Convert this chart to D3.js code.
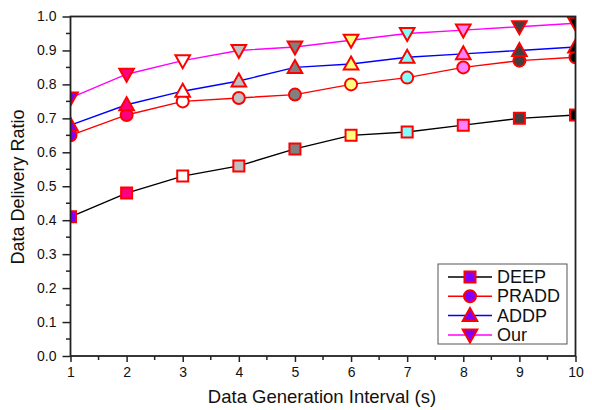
<!DOCTYPE html>
<html><head><meta charset="utf-8">
<script src="https://cdn.jsdelivr.net/npm/d3@7"></script>
<style>body{margin:0;background:#fff}svg{display:block}text{font-family:Arial,"Liberation Sans",sans-serif}</style>
</head><body><svg id="c" width="592" height="410"></svg>
<script>
const xValues = [1,2,3,4,5,6,7,8,9,10];
const seriesNames = ["DEEP","PRADD","ADDP","Our"];
const deep  = [0.41,0.48,0.53,0.56,0.61,0.65,0.66,0.68,0.70,0.71];
const pradd = [0.65,0.71,0.75,0.76,0.77,0.80,0.82,0.85,0.87,0.88];
const addp  = [0.68,0.74,0.78,0.81,0.85,0.86,0.88,0.89,0.90,0.91];
const our   = [0.76,0.83,0.87,0.90,0.91,0.93,0.95,0.96,0.97,0.98];
const yTicks = [0.0,0.1,0.2,0.3,0.4,0.5,0.6,0.7,0.8,0.9,1.0];
const xTicks = [1,2,3,4,5,6,7,8,9,10];
const pointFills = ["#8000FF","#FF0080","#FFFFFF","#C0C0C0","#808080","#FFFF80","#80FFFF","#FF80FF","#404040","#000000"];
const lineColors = ["#000000","#FF0000","#0000FF","#FF00FF"];
const symbols = ["square","circle","triangle","triangleDown"];

const data = [deep,pradd,addp,our];
const svg = d3.select("#c");
const L=70.5,R=575.5,T=16.5,B=356;
const x = d3.scaleLinear().domain([1,10]).range([L,R]);
const y = d3.scaleLinear().domain([0,1]).range([B,T]);

svg.append("defs").append("clipPath").attr("id","clip").append("rect")
  .attr("x",L).attr("y",T).attr("width",R-L).attr("height",B-T);

function markerPath(sym, cx, cy){
  if(sym==="square"){const s=5.5;return `M${cx-s},${cy-s}H${cx+s}V${cy+s}H${cx-s}Z`;}
  if(sym==="circle"){const r=6;return `M${cx+r},${cy}A${r},${r} 0 1 1 ${cx-r},${cy}A${r},${r} 0 1 1 ${cx+r},${cy}Z`;}
  if(sym==="triangle"){const h=6.5;return `M${cx},${cy-h-1}L${cx+h+0.8},${cy+h-1}L${cx-h-0.8},${cy+h-1}Z`;}
  const h=6.5;return `M${cx},${cy+h+1}L${cx+h+0.8},${cy-h+1}L${cx-h-0.8},${cy-h+1}Z`;
}

const plot = svg.append("g").attr("clip-path","url(#clip)");
const line = d3.line().x((d,i)=>x(xValues[i])).y(d=>y(d));
data.forEach((vals,si)=>{
  plot.append("path").attr("d",line(vals)).attr("fill","none")
    .attr("stroke",lineColors[si]).attr("stroke-width",1.4);
});
data.forEach((vals,si)=>{
  vals.forEach((v,i)=>{
    plot.append("path").attr("d",markerPath(symbols[si],x(xValues[i]),y(v)))
      .attr("fill",pointFills[i]).attr("stroke","#FF0000").attr("stroke-width",2);
  });
});

// frame
svg.append("rect").attr("x",L).attr("y",T).attr("width",R-L).attr("height",B-T)
  .attr("fill","none").attr("stroke","#222").attr("stroke-width",1.8);

// y axis
const yAxis = svg.append("g").attr("transform",`translate(${L},0)`)
  .call(d3.axisLeft(y).tickValues(yTicks).tickFormat(d3.format(".1f")).tickSize(8).tickPadding(6));
yAxis.select(".domain").remove();
yAxis.selectAll("line").attr("stroke","#222").attr("stroke-width",1.5);
yAxis.selectAll("text").attr("font-size",14).attr("fill","#111");
const yMinor = d3.range(0.05,1,0.1);
svg.append("g").selectAll("line").data(yMinor).join("line")
  .attr("x1",L-4.5).attr("x2",L).attr("y1",d=>y(d)).attr("y2",d=>y(d))
  .attr("stroke","#222").attr("stroke-width",1.5);

// x axis
const xAxis = svg.append("g").attr("transform",`translate(0,${B})`)
  .call(d3.axisBottom(x).tickValues(xTicks).tickFormat(d3.format("d")).tickSize(6).tickPadding(5));
xAxis.select(".domain").remove();
xAxis.selectAll("line").attr("stroke","#222").attr("stroke-width",1.5);
xAxis.selectAll("text").attr("font-size",14).attr("fill","#111");
const xMinor = d3.range(1.5,10,1);
svg.append("g").selectAll("line").data(xMinor).join("line")
  .attr("x1",d=>x(d)).attr("x2",d=>x(d)).attr("y1",B).attr("y2",B+4)
  .attr("stroke","#222").attr("stroke-width",1.5);

// titles
svg.append("text").attr("x",322).attr("y",403).attr("text-anchor","middle")
  .attr("font-size",18.5).attr("fill","#111").text("Data Generation Interval (s)");
svg.append("text").attr("transform",`translate(24,187) rotate(-90)`)
  .attr("text-anchor","middle").attr("font-size",18).attr("fill","#111").text("Data Delivery Ratio");

// legend
const lg = svg.append("g");
lg.append("rect").attr("x",438).attr("y",264).attr("width",129).attr("height",80)
  .attr("fill","#fff").attr("stroke","#555").attr("stroke-width",1);
seriesNames.forEach((n,si)=>{
  const ly = 277 + si*19.3;
  lg.append("line").attr("x1",448).attr("x2",492).attr("y1",ly).attr("y2",ly)
    .attr("stroke",lineColors[si]).attr("stroke-width",1.5);
  lg.append("path").attr("d",markerPath(symbols[si],470,ly))
    .attr("fill","#8000FF").attr("stroke","#FF0000").attr("stroke-width",2);
  lg.append("text").attr("x",497).attr("y",ly+6).attr("font-size",18).attr("fill","#111").text(n);
});
</script></body></html>
